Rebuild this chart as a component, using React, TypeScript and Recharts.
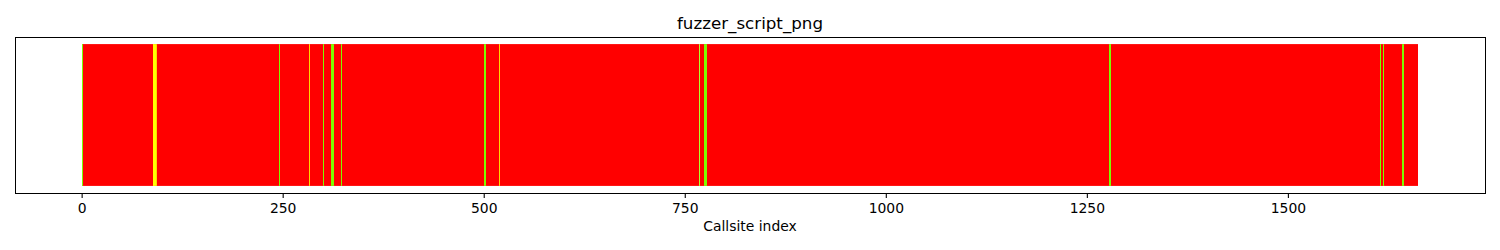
import React from 'react';
import { BarChart, Bar, XAxis, YAxis, Cell } from 'recharts';

const chartTitle = 'fuzzer_script_png';
const xAxisLabel = 'Callsite index';
const callsiteCount = 1662;
const xTicks = [0, 250, 500, 750, 1000, 1250, 1500];

// callsite runs that were reached, [first, last, colour]; everything else stays red
const hitRuns: [number, number, string][] = [
  [0, 0, 'lawngreen'],
  [88, 88, 'gold'],
  [89, 91, 'yellow'],
  [92, 92, 'gold'],
  [245, 245, 'lawngreen'],
  [282, 282, 'gold'],
  [300, 300, 'lawngreen'],
  [310, 312, 'lawngreen'],
  [323, 323, 'lawngreen'],
  [500, 500, 'lawngreen'],
  [502, 502, 'lawngreen'],
  [519, 519, 'gold'],
  [767, 767, 'greenyellow'],
  [774, 776, 'lawngreen'],
  [1277, 1277, 'lawngreen'],
  [1279, 1279, 'lawngreen'],
  [1615, 1615, 'lawngreen'],
  [1618, 1618, 'lawngreen'],
  [1642, 1643, 'lawngreen'],
];

const font = 'DejaVu Sans, sans-serif';
const xDomain: [number, number] = [-83.49, 1744.49];

const runOf = (i: number) => hitRuns.find(([a, b]) => i >= a && i <= b);

const data = Array.from({ length: callsiteCount }, (_, i) => {
  const run = runOf(i);
  return { idx: i, value: 1, hit: run ? 1 : null, colour: run ? run[2] : 'red' };
});

// snap bars to whole pixels like matplotlib, so the red run has no seams
const SnappedBar = (props: any) => {
  const { x, y, width, height, fill } = props;
  if (!height) return null;
  const x0 = Math.round(x);
  const x1 = Math.round(x + width);
  if (x1 <= x0) return null;
  return <rect x={x0} y={y} width={x1 - x0} height={height} fill={fill} />;
};

// reached callsites stay visible even when they round below one pixel
const HitBar = (props: any) => {
  const { x, y, width, height, fill } = props;
  if (!height) return null;
  const x0 = Math.round(x);
  const x1 = Math.max(x0 + 1, Math.round(x + width));
  return <rect x={x0} y={y} width={x1 - x0} height={height} fill={fill} />;
};

export default function App() {
  return (
    <div style={{ position: 'absolute', left: 0, top: 0, width: 1500, height: 250, fontFamily: font }}>
      <div
        style={{
          position: 'absolute',
          left: 0,
          width: 1500,
          top: 13,
          textAlign: 'center',
          fontSize: 16.7,
          lineHeight: '20px',
        }}
      >
        {chartTitle}
      </div>
      <BarChart
        width={1500}
        height={250}
        data={data}
        margin={{ top: 37, right: 15, bottom: 0, left: 15 }}
        barCategoryGap={0}
        barGap={0}
      >
        <XAxis
          dataKey="idx"
          type="number"
          domain={xDomain}
          allowDataOverflow
          ticks={xTicks}
          height={57}
          tickSize={5}
          tickMargin={5}
          tick={{ fill: '#000', fontSize: 13.9, fontFamily: font }}
          tickLine={{ stroke: '#000', strokeWidth: 1.1 }}
          axisLine={false}
        />
        <XAxis xAxisId="hits" dataKey="idx" type="number" domain={xDomain} allowDataOverflow hide />
        <YAxis type="number" domain={[-0.05, 1.05]} allowDataOverflow width={0} hide />
        <Bar dataKey="value" fill="red" isAnimationActive={false} shape={SnappedBar} />
        <Bar dataKey="hit" xAxisId="hits" isAnimationActive={false} shape={HitBar}>
          {data.map((d) => (
            <Cell key={d.idx} fill={d.colour} />
          ))}
        </Bar>
      </BarChart>
      <div
        style={{
          position: 'absolute',
          left: 15,
          top: 37,
          width: 1471,
          height: 157,
          boxSizing: 'border-box',
          border: '1px solid #000',
          pointerEvents: 'none',
        }}
      />
      <div
        style={{
          position: 'absolute',
          left: 0,
          width: 1500,
          top: 218,
          textAlign: 'center',
          fontSize: 13.9,
          lineHeight: '17px',
        }}
      >
        {xAxisLabel}
      </div>
    </div>
  );
}
